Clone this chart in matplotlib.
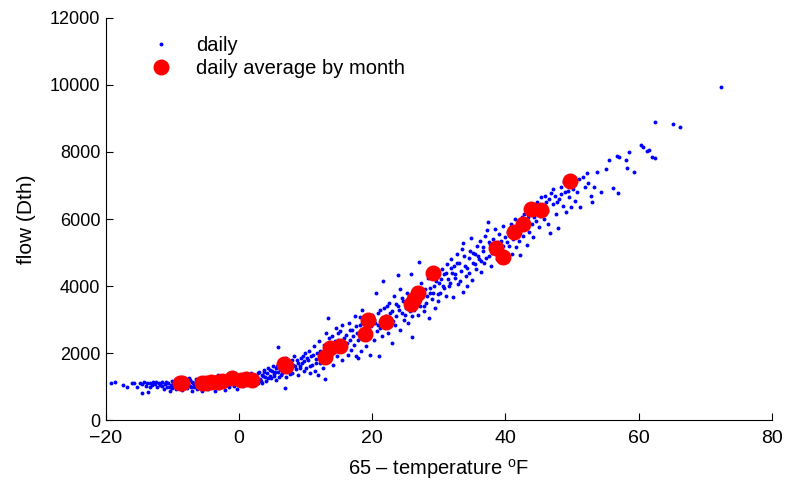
import matplotlib
matplotlib.use('Agg')
import matplotlib.pyplot as plt
import numpy as np

plt.rcParams['font.family'] = ['Liberation Sans', 'DejaVu Sans']
plt.rcParams['mathtext.fontset'] = 'custom'
plt.rcParams['mathtext.rm'] = 'Liberation Sans'

# daily flow vs heating degrees (65 - temperature), read per band of x
daily_x = [
    # -19 .. -10
    -19.2, -18.7, -16.8, -16.1, -15.3, -14.6, -14.5, -14.2, -14.0, -13.8, -13.7, -13.4, -13.1, -12.9,
    -12.6, -12.3, -12.0, -11.8, -11.5, -11.3, -11.1, -10.8, -10.6, -10.4, -10.2, -10.0, -10.0,
    -17.5, -15.8, -14.9, -13.3, -12.4, -11.6, -10.9, -10.3,
    # -10 .. 0
    -9.8, -9.6, -9.5, -9.3, -9.2, -9.0, -8.8, -8.7, -8.5, -8.3, -8.1, -8.0, -7.8, -7.6, -7.5, -7.3,
    -7.1, -7.0, -6.8, -6.6, -6.5, -6.3, -6.1, -6.0, -5.8, -5.6, -5.5, -5.3, -5.1, -5.0, -4.8, -4.6,
    -4.5, -4.3, -4.1, -4.0, -3.8, -3.6, -3.5, -3.3, -3.1, -3.0, -2.8, -2.6, -2.5, -2.3, -2.1, -2.0,
    -1.8, -1.6, -1.5, -1.3, -1.1, -1.0, -0.8, -0.6, -0.5, -0.3, -0.1, 0.0,
    -9.9, -9.4, -9.1, -8.9, -8.6, -8.2, -7.9, -7.7, -7.4, -7.2, -6.9, -6.7, -6.4, -6.2, -5.9, -5.7,
    -5.4, -5.2, -4.9, -4.7, -4.4, -4.2, -3.9, -3.7, -3.4, -3.2, -2.9, -2.7, -2.4, -2.2, -1.9, -1.7,
    -1.4, -1.2, -0.9, -0.7, -0.4, -0.2,
    # 0 .. 10
    0.2, 0.4, 0.6, 0.8, 1.0, 1.2, 1.4, 1.6, 1.8, 2.0, 2.2, 2.4, 2.6, 2.8, 3.0, 3.2, 3.4, 3.5, 3.7,
    3.9, 4.1, 4.2, 4.4, 4.6, 4.8, 5.0, 5.1, 5.3, 5.5, 5.6, 5.8, 5.9, 6.1, 6.3, 6.4, 6.6, 6.8, 6.9,
    7.0, 7.1, 7.3, 7.5, 7.7, 7.9, 8.1, 8.3, 8.5, 8.7, 8.9, 9.1, 9.3, 9.5, 9.7, 9.9,
    0.1, 0.5, 0.9, 1.3, 1.7, 2.1, 2.5, 2.9, 3.3, 3.6, 3.8, 4.3, 4.7, 5.2, 5.4, 5.7, 6.0, 6.2,
    6.5, 6.7, 7.2, 7.6, 8.0, 8.4, 8.8, 9.2, 9.6, 9.8,
    # 10 .. 20
    10.1, 10.3, 10.5, 10.6, 10.8, 11.0, 11.2, 11.4, 11.5, 11.7, 11.9, 12.0, 12.2, 12.4, 12.6, 12.9,
    13.0, 13.1, 13.3, 13.4, 13.6, 13.8, 14.0, 14.1, 14.3, 14.5, 14.7, 14.9, 15.0, 15.2, 15.4, 15.5,
    15.7, 15.9, 16.1, 16.3, 16.5, 16.6, 16.8, 17.0, 17.2, 17.4, 17.5, 17.7, 17.8, 17.9, 18.1, 18.1,
    18.3, 18.4, 18.6, 18.8, 19.0, 19.0, 19.2, 19.4, 19.6, 19.8, 20.0,
    10.2, 10.7, 11.1, 11.6, 12.1, 12.5, 12.8, 13.2, 13.5, 13.9, 14.4, 14.8, 15.3, 15.8, 16.2, 16.7,
    17.1, 17.6, 18.0, 18.5, 18.9, 19.3, 19.7,
    # 20 .. 30
    20.2, 20.4, 20.6, 20.7, 20.9, 21.0, 21.1, 21.3, 21.5, 21.6, 21.7, 21.9, 22.1, 22.3, 22.5, 22.7,
    22.9, 23.0, 23.2, 23.4, 23.6, 23.8, 23.9, 24.1, 24.2, 24.4, 24.6, 24.8, 25.0, 25.2, 25.4, 25.6,
    25.8, 25.9, 26.0, 26.2, 26.4, 26.6, 26.8, 27.0, 27.1, 27.3, 27.5, 27.7, 27.9, 28.1, 28.3, 28.5,
    28.7, 28.9, 29.0, 29.2, 29.4, 29.6, 29.8, 30.0,
    20.3, 20.8, 21.2, 21.8, 22.2, 22.6, 23.1, 23.5, 24.0, 24.5, 24.9, 25.3, 25.7, 26.1, 26.5, 26.9,
    27.4, 27.8, 28.2, 28.6, 29.1, 29.5, 29.9,
    # 30 .. 40
    30.2, 30.4, 30.6, 30.8, 31.0, 31.2, 31.4, 31.6, 31.8, 32.0, 32.1, 32.3, 32.5, 32.7, 32.9, 33.1,
    33.3, 33.5, 33.6, 33.7, 33.9, 34.1, 34.3, 34.5, 34.7, 34.9, 35.0, 35.2, 35.4, 35.6, 35.8, 36.0,
    36.2, 36.4, 36.6, 36.8, 37.0, 37.2, 37.4, 37.5, 37.7, 37.9, 38.1, 38.3, 38.5, 38.7, 38.9, 39.1,
    39.2, 39.4, 39.6, 39.8, 40.0,
    30.3, 30.7, 31.1, 31.5, 31.9, 32.4, 32.8, 33.2, 33.8, 34.2, 34.6, 35.1, 35.5, 35.9, 36.3, 36.7,
    37.1, 37.6, 38.0, 38.4, 38.8, 39.3, 39.7,
    # 40 .. 50
    40.2, 40.4, 40.6, 40.8, 41.0, 41.2, 41.4, 41.6, 41.8, 42.0, 42.2, 42.4, 42.6, 42.8, 43.0, 43.2,
    43.4, 43.6, 43.8, 44.0, 44.2, 44.4, 44.6, 44.8, 45.0, 45.2, 45.4, 45.6, 45.8, 46.0, 46.2, 46.4,
    46.7, 46.9, 47.1, 47.4, 47.6, 47.9, 48.1, 48.3, 48.6, 48.9, 49.1, 49.3, 49.6, 49.9,
    40.3, 40.9, 41.5, 42.1, 42.5, 43.1, 43.7, 44.3, 44.9, 45.5, 46.1, 46.6, 47.2, 47.8, 48.4, 48.8,
    49.4, 49.8,
    # 50 and up
    50.1, 50.3, 50.5, 50.8, 51.0, 51.2, 51.6, 51.9, 52.2, 52.4, 52.8, 53.0, 53.3, 53.7, 54.3, 55.1,
    55.5, 56.1, 56.7, 56.9, 57.0, 58.1, 58.2, 58.5, 59.3, 60.3, 60.6, 61.2, 61.6, 62.0, 62.4, 62.4,
    65.1, 66.2, 72.3,
]
daily_flow = [
    1120, 1150, 990, 1100, 990, 800, 1080, 1150, 1020, 1100, 840, 1120, 1060, 1150,
    1090, 980, 1100, 1050, 1150, 930, 1070, 1000, 1120, 880, 1050, 1180, 960,
    1050, 1120, 1100, 1000, 1130, 1010, 1140, 1000,
    1010, 1120, 920, 1060, 1180, 980, 1230, 1050, 900, 1140, 1010, 1200, 950, 1090, 1260, 1030,
    870, 1150, 990, 1100, 1220, 940, 1060, 1170, 1010, 880, 1120, 1250, 980, 1080, 1190, 920,
    1040, 1140, 1300, 1000, 1090, 860, 1200, 1050, 1350, 960, 1120, 1230, 1010, 1150, 900, 1280,
    1060, 1180, 980, 1240, 1100, 1350, 1020, 1160, 1290, 940, 1210, 1080,
    1090, 1150, 1030, 1170, 1080, 1000, 1130, 1060, 1190, 980, 1110, 1040, 1160, 1080, 1210, 1000,
    1140, 1060, 1180, 1110, 990, 1200, 1070, 1150, 1250, 1030, 1190, 1090, 1300, 1120, 1040, 1210,
    1150, 1080, 1260, 1190, 1100, 1230,
    1150, 1300, 1020, 1210, 1370, 1090, 1250, 1160, 1400, 1050, 1280, 1190, 1330, 1120, 1450, 1240, 1360, 1100, 1500,
    1290, 1180, 1420, 1560, 1330, 1250, 1480, 1620, 1380, 1200, 1540, 2180, 1440, 1680, 1350, 1580, 1760, 1470, 955,
    1300, 1850, 1620, 1500, 1720, 1400, 1650, 1900, 1530, 1780, 1360, 1600, 1840, 1700, 1480, 2000,
    1250, 1140, 1320, 1200, 1080, 1350, 1240, 1400, 1180, 1310, 1440, 1260, 1500, 1320, 1450, 1600, 1280, 1520,
    1400, 1660, 1550, 1380, 1800, 1620, 1700, 1540, 1900, 1750,
    1550, 1780, 2050, 1420, 1900, 1650, 2200, 1480, 1820, 2000, 1350, 2350, 1700, 1950, 1560, 1220,
    2100, 2600, 3040, 1800, 2300, 1950, 2500, 1650, 2200, 2750, 1900, 2400, 2050, 2650, 2840, 1800,
    2300, 2150, 2550, 1950, 2900, 2400, 2100, 2700, 2250, 3100, 1900, 2600, 1850, 2400, 2850, 3070,
    2050, 3300, 2500, 2700, 2200, 3070, 3000, 2600, 1950, 2800, 3150,
    1850, 1600, 1950, 1700, 2050, 1850, 2250, 2000, 2450, 2150, 2350, 2600, 2200, 2450, 2300, 2700,
    2500, 2800, 2600, 2900, 2450, 2750, 2550,
    2400, 2900, 3800, 2650, 3200, 1900, 2750, 3000, 2500, 4150, 3350, 2800, 3100, 2600, 3500, 2950,
    2300, 3250, 3700, 2850, 3100, 4330, 3400, 3910, 2700, 3200, 3550, 3000, 3350, 3800, 2900, 3450,
    4360, 3100, 2480, 3300, 3950, 3600, 3150, 4720, 3400, 4100, 3700, 3250, 3900, 3500, 4250, 3050,
    3800, 4500, 3600, 4000, 3350, 4300, 3750, 4100,
    3000, 2850, 3300, 3050, 3400, 3200, 2950, 3450, 3300, 3650, 3150, 3550, 3250, 3700, 3450, 3550,
    3850, 3400, 3700, 3950, 3800, 4150, 3550,
    3790, 4500, 4000, 4350, 3700, 4650, 4200, 4100, 4800, 4400, 3670, 4600, 4250, 4950, 4050, 4700,
    4450, 5100, 3830, 5280, 4600, 4300, 4000, 4850, 5050, 5430, 4180, 4700, 4950, 4500, 5200, 4800,
    5350, 4430, 5050, 4700, 5500, 5670, 5910, 4900, 5250, 4600, 5400, 5050, 5700, 4800, 5300, 5550,
    4730, 5150, 5800, 5000, 5450,
    4200, 3950, 4400, 4000, 4550, 4350, 4700, 4150, 4900, 4550, 4400, 5000, 4650, 4900, 4750, 5150,
    4850, 5300, 5000, 5200, 4950, 5350, 5200,
    4900, 5600, 5200, 5850, 4950, 5400, 6000, 5150, 5650, 5350, 4930, 5900, 5500, 6150, 5700, 5220,
    6050, 5600, 6400, 5850, 5450, 6200, 5950, 6500, 5750, 6100, 6650, 6350, 6000, 6700, 6250, 5850,
    5580, 6780, 6450, 6700, 6150, 5730, 6600, 6950, 6400, 6800, 6200, 7000, 6650, 6350,
    5300, 5500, 5700, 5600, 6050, 5950, 6200, 6050, 6300, 6400, 6500, 6600, 6900, 6500, 6750, 7100,
    6850, 7050,
    6900, 7100, 6550, 6800, 7200, 6360, 7250, 6950, 7370, 7070, 6700, 6500, 6950, 7400, 6810, 7490,
    7760, 6920, 7880, 6780, 7850, 7760, 7520, 8000, 7400, 8200, 8150, 8030, 8050, 7850, 7820, 8900,
    8840, 8750, 9940,
]

# monthly averages of the daily values
month_x = [-8.9, -8.6, -5.6, -5.0, -4.2, -3.2, -2.6, -1.0, 0.3, 1.0, 2.0, 6.7, 7.1, 12.9, 13.7,
           15.1, 18.9, 19.4, 22.0, 25.8, 26.3, 26.9, 29.1, 38.6, 39.7, 41.3, 42.7, 43.8, 45.3, 49.7]
month_flow = [1120, 1100, 1110, 1120, 1130, 1150, 1160, 1260, 1200, 1220, 1210, 1680, 1620, 1880, 2140,
              2200, 2560, 2980, 2920, 3450, 3620, 3800, 4380, 5130, 4880, 5620, 5860, 6300, 6280, 7130]

fig = plt.figure(figsize=(7.9, 4.84), dpi=100)
ax = fig.add_axes([0.134, 0.132, 0.843, 0.831])

ax.plot(daily_x, daily_flow, 'o', color='#0000ff', markersize=2.8, markeredgewidth=0, label='daily')
ax.plot(month_x, month_flow, 'o', color='#ff0000', markersize=11.5, markeredgewidth=0,
        label='daily average by month')

ax.set_xlim(-20, 80)
ax.set_ylim(0, 12000)
ax.set_xticks(np.arange(-20, 81, 20))
ax.set_yticks(np.arange(0, 12001, 2000))
ax.set_xticklabels(['\u221220', '0', '20', '40', '60', '80'])

for s in ['top', 'right']:
    ax.spines[s].set_visible(False)
for s in ['left', 'bottom']:
    ax.spines[s].set_linewidth(0.8)
ax.tick_params(direction='in', length=5, width=0.8, labelsize=13, pad=4)
ax.tick_params(axis='x', labelsize=14, pad=7)

ax.set_xlabel('65 \u2013 temperature $^{\\mathrm{o}}$F', fontsize=14.5, labelpad=7)
ax.set_ylabel('flow (Dth)', fontsize=15, labelpad=10)

ax.legend(loc='upper left', bbox_to_anchor=(0.033, 1.0), frameon=False, fontsize=14.5,
          handlelength=1.5, handletextpad=1.0, labelspacing=0.2, numpoints=1)

plt.savefig('out.png', dpi=100)
plt.close()
